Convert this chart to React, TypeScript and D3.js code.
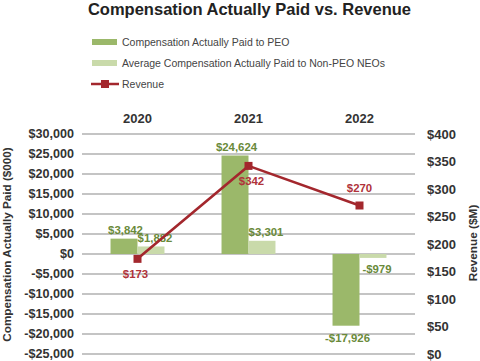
import React from "react";
import * as d3 from "d3";

const years = ["2020", "2021", "2022"];
const peoCAP = [3842, 24624, -17926];
const neoCAP = [1882, 3301, -979];
const revenue = [173, 342, 270];
const leftTicks = [30000, 25000, 20000, 15000, 10000, 5000, 0, -5000, -10000, -15000, -20000, -25000];
const rightTicks = [400, 350, 300, 250, 200, 150, 100, 50, 0];
const seriesNames = ["Compensation Actually Paid to PEO", "Average Compensation Actually Paid to Non-PEO NEOs", "Revenue"];

const W = 480, H = 361;
const C_PEO = "#9bb86a";
const C_NEO = "#c9daaa";
const C_REV = "#a3272d";
const C_PEO_TXT = "#6a8a3a";
const C_REV_TXT = "#b0333a";
const FONT = "'Liberation Sans', Arial, Helvetica, sans-serif";

const fmt = (v: number) => (v < 0 ? "-$" : "$") + d3.format(",")(Math.abs(v));

export default function App() {
  const plotL = 82, plotR = 415, plotT = 134, plotB = 354;
  const x0 = d3.scaleBand<string>().domain(years).range([plotL, plotR]).paddingInner(0.514).paddingOuter(0.257);
  const x1 = d3.scaleBand<string>().domain(["peo", "neo"]).range([0, x0.bandwidth()]);
  const yL = d3.scaleLinear().domain([-25000, 30000]).range([plotB, plotT]);
  const yR = d3.scaleLinear().domain([0, 400]).range([plotB, plotT]);
  const xc = (y: string) => (x0(y) as number) + x0.bandwidth() / 2;
  const line = d3.line<number>().x((_, i) => xc(years[i])).y((d) => yR(d));
  const revLabelPos = ["below", "below", "above"];
  const bw = x1.bandwidth();

  return (
    <svg width={W} height={H} style={{ position: "absolute", left: 0, top: 0, fontFamily: FONT }}>
      <rect width={W} height={H} fill="#fff" />
      <text x={249.5} y={15} textAnchor="middle" fontSize={16.5} fontWeight="bold" fill="#222">
        Compensation Actually Paid vs. Revenue
      </text>
      {/* legend */}
      <g>
        <rect x={92} y={39} width={25} height={6} fill={C_PEO} />
        <text x={122} y={46} fontSize={10.5} fill="#444">{seriesNames[0]}</text>
        <rect x={92} y={60} width={25} height={6} fill={C_NEO} />
        <text x={122} y={67} fontSize={10.5} fill="#444">{seriesNames[1]}</text>
        <line x1={91} x2={119} y1={84} y2={84} stroke={C_REV} strokeWidth={2.5} />
        <rect x={101} y={80} width={8} height={8} fill={C_REV} />
        <text x={122} y={88} fontSize={10.5} fill="#444">{seriesNames[2]}</text>
      </g>
      {/* year labels */}
      {years.map((y) => (
        <text key={y} x={xc(y)} y={123} textAnchor="middle" fontSize={13} fontWeight="bold" fill="#333">{y}</text>
      ))}
      {/* gridlines */}
      {leftTicks.map((t) => (
        <line key={t} x1={plotL} x2={plotR} y1={yL(t)} y2={yL(t)} stroke="#b0b0b0" strokeWidth={1.6} />
      ))}
      {/* left ticks */}
      {leftTicks.map((t) => (
        <text key={t} x={74} y={yL(t)} dy="0.35em" textAnchor="end" fontSize={12.6} fontWeight="bold" fill="#333">{fmt(t)}</text>
      ))}
      {/* right ticks */}
      {rightTicks.map((t) => (
        <text key={t} x={427} y={yR(t)} dy="0.35em" textAnchor="start" fontSize={13} fontWeight="bold" fill="#333">{"$" + t}</text>
      ))}
      <text transform={`translate(11,244.5) rotate(-90)`} textAnchor="middle" fontSize={11.7} fontWeight="bold" fill="#333">
        Compensation Actually Paid ($000)
      </text>
      <text transform={`translate(477,243) rotate(-90)`} textAnchor="middle" fontSize={11.8} fontWeight="bold" fill="#333">
        Revenue ($M)
      </text>
      {/* bars */}
      {years.map((y, i) => {
        const bx = x0(y) as number;
        const p = peoCAP[i], n = neoCAP[i];
        return (
          <g key={y}>
            <rect x={bx + (x1("peo") as number)} width={bw} y={Math.min(yL(p), yL(0))} height={Math.abs(yL(p) - yL(0))} fill={C_PEO} />
            <rect x={bx + (x1("neo") as number)} width={bw} y={Math.min(yL(n), yL(0))} height={Math.abs(yL(n) - yL(0))} fill={C_NEO} />
          </g>
        );
      })}
      {/* bar labels */}
      {years.map((y, i) => {
        const bx = x0(y) as number;
        const p = peoCAP[i], n = neoCAP[i];
        const pcx = bx + (x1("peo") as number) + bw / 2 + 1.5;
        const ncx = bx + (x1("neo") as number) + bw / 2 + 4;
        return (
          <g key={y} fontSize={11.4} fontWeight="bold" fill={C_PEO_TXT} textAnchor="middle">
            <text x={pcx} y={p >= 0 ? yL(p) - 5 : yL(p) + 16}>{fmt(p)}</text>
            <text x={ncx} y={n >= 0 ? yL(n) - 4.5 : yL(n) + 15}>{fmt(n)}</text>
          </g>
        );
      })}
      {/* revenue line */}
      <path d={line(revenue) as string} fill="none" stroke={C_REV} strokeWidth={2.6} />
      {revenue.map((r, i) => (
        <rect key={i} x={xc(years[i]) - 4} y={yR(r) - 4} width={8} height={8} fill={C_REV} />
      ))}
      {revenue.map((r, i) => (
        <text key={i} x={xc(years[i]) + (i === 1 ? 3 : i === 0 ? -2 : 0)} y={revLabelPos[i] === "below" ? yR(r) + 19 : yR(r) - 13.5}
          textAnchor="middle" fontSize={11.4} fontWeight="bold" fill={C_REV_TXT}>{"$" + r}</text>
      ))}
    </svg>
  );
}
